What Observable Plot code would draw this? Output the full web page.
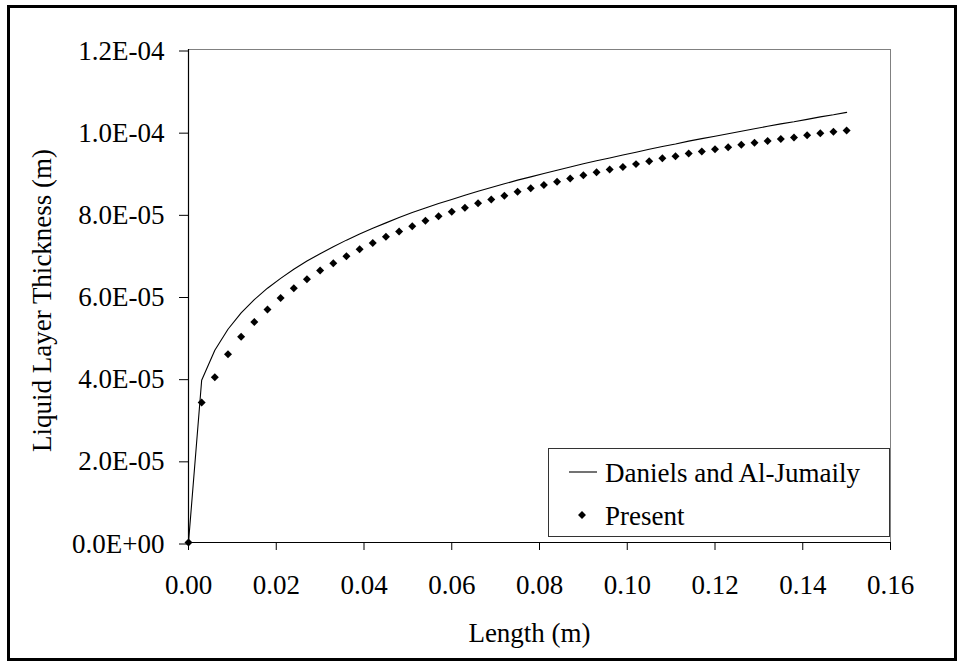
<!DOCTYPE html>
<html>
<head>
<meta charset="utf-8">
<script src="https://cdn.jsdelivr.net/npm/d3@7"></script>
<script src="https://cdn.jsdelivr.net/npm/@observablehq/plot@0.6"></script>
<style>
  html, body { margin: 0; padding: 0; background: #fff; }
  #wrap { position: relative; width: 958px; height: 662px; overflow: hidden; font-family: "Liberation Serif", "Times New Roman", serif; }
  #border { position: absolute; left: 7px; top: 5px; right: 1px; bottom: 1px; border: 3px solid #000; pointer-events: none; }
  #legend { position: absolute; left: 548px; top: 448px; width: 342px; height: 89px; box-sizing: border-box; border: 1px solid #333; background: #fff; }
  #legend svg { position: absolute; left: 0; top: 0; }
</style>
</head>
<body>
<div id="wrap">
  <div id="chart"></div>
  <div id="border"></div>
  <div id="legend"></div>
</div>
<script>
// Length along the surface (m)
const lengthM = [0, 0.003, 0.006, 0.009, 0.012, 0.015, 0.018, 0.021, 0.024, 0.027, 0.030,
  0.033, 0.036, 0.039, 0.042, 0.045, 0.048, 0.051, 0.054, 0.057, 0.060,
  0.063, 0.066, 0.069, 0.072, 0.075, 0.078, 0.081, 0.084, 0.087, 0.090,
  0.093, 0.096, 0.099, 0.102, 0.105, 0.108, 0.111, 0.114, 0.117, 0.120,
  0.123, 0.126, 0.129, 0.132, 0.135, 0.138, 0.141, 0.144, 0.147, 0.150];

// Daniels and Al-Jumaily (m)
const danielsThickness = [0, 3.95e-5, 4.68e-5, 5.19e-5, 5.59e-5, 5.91e-5, 6.19e-5, 6.43e-5, 6.65e-5, 6.85e-5, 7.03e-5,
  7.20e-5, 7.36e-5, 7.51e-5, 7.65e-5, 7.78e-5, 7.91e-5, 8.03e-5, 8.14e-5, 8.25e-5, 8.35e-5,
  8.45e-5, 8.55e-5, 8.64e-5, 8.73e-5, 8.82e-5, 8.90e-5, 8.98e-5, 9.06e-5, 9.14e-5, 9.22e-5,
  9.29e-5, 9.36e-5, 9.43e-5, 9.50e-5, 9.57e-5, 9.64e-5, 9.70e-5, 9.77e-5, 9.83e-5, 9.89e-5,
  9.95e-5, 10.01e-5, 10.07e-5, 10.13e-5, 10.19e-5, 10.24e-5, 10.30e-5, 10.36e-5, 10.41e-5, 10.47e-5];

// Present (m)
const presentThickness = [0, 3.41e-5, 4.02e-5, 4.58e-5, 5.01e-5, 5.37e-5, 5.67e-5, 5.95e-5, 6.19e-5, 6.41e-5, 6.62e-5,
  6.80e-5, 6.97e-5, 7.14e-5, 7.29e-5, 7.44e-5, 7.57e-5, 7.70e-5, 7.83e-5, 7.94e-5, 8.05e-5,
  8.15e-5, 8.26e-5, 8.35e-5, 8.44e-5, 8.54e-5, 8.62e-5, 8.70e-5, 8.78e-5, 8.86e-5, 8.94e-5,
  9.01e-5, 9.08e-5, 9.14e-5, 9.21e-5, 9.28e-5, 9.35e-5, 9.40e-5, 9.47e-5, 9.52e-5, 9.57e-5,
  9.62e-5, 9.68e-5, 9.73e-5, 9.77e-5, 9.82e-5, 9.86e-5, 9.91e-5, 9.96e-5, 10.00e-5, 10.03e-5];

const xTickValues = [0, 0.02, 0.04, 0.06, 0.08, 0.10, 0.12, 0.14, 0.16];
const xTickLabels = ["0.00", "0.02", "0.04", "0.06", "0.08", "0.10", "0.12", "0.14", "0.16"];
const yTickValues = [0, 2e-5, 4e-5, 6e-5, 8e-5, 10e-5, 12e-5];
const yTickLabels = ["0.0E+00", "2.0E-05", "4.0E-05", "6.0E-05", "8.0E-05", "1.0E-04", "1.2E-04"];

const seriesNames = ["Daniels and Al-Jumaily", "Present"];
const xTitle = "Length (m)";
const yTitle = "Liquid Layer Thickness (m)";

const rows = lengthM.map((x, i) => ({x, daniels: danielsThickness[i], present: presentThickness[i]}));

const nearestLabel = (values, labels) => d => {
  let best = 0;
  values.forEach((v, i) => { if (Math.abs(v - d) < Math.abs(values[best] - d)) best = i; });
  return labels[best];
};

const FONT = "Liberation Serif, Times New Roman, serif";

const chart = Plot.plot({
  width: 958,
  height: 662,
  marginLeft: 188,
  marginRight: 68,
  marginTop: 49,
  marginBottom: 120,
  style: {fontFamily: FONT, fontSize: "27px", color: "#000", background: "transparent", overflow: "visible"},
  x: {domain: [0, 0.16]},
  y: {domain: [0, 1.2e-4]},
  marks: [
    Plot.frame({stroke: "#808080", strokeWidth: 1}),
    Plot.axisX({ticks: xTickValues, tickFormat: nearestLabel(xTickValues, xTickLabels), tickSize: 8, tickPadding: 24, label: null, fontSize: 27, stroke: "#000"}),
    Plot.axisY({ticks: yTickValues, tickFormat: nearestLabel(yTickValues, yTickLabels), tickSize: 9, tickPadding: 15, label: null, fontSize: 27, dy: 1.5, stroke: "#000"}),
    Plot.ruleX([0], {stroke: "#000", strokeWidth: 1.2}),
    Plot.ruleY([0], {stroke: "#000", strokeWidth: 1.2}),
    Plot.line(rows, {x: "x", y: "daniels", stroke: "#000", strokeWidth: 1.1}),
    Plot.dot(rows, {x: "x", y: "present", symbol: "diamond2", r: 3.6, fill: "#000", stroke: "none"}),
    Plot.text([xTitle], {frameAnchor: "bottom", textAnchor: "middle", lineAnchor: "middle", dy: 91, dx: -10, fontSize: 27, fill: "#000"}),
    Plot.text([yTitle], {frameAnchor: "left", textAnchor: "middle", lineAnchor: "middle", rotate: -90, dx: -146, dy: 4.5, fontSize: 27, fill: "#000"})
  ]
});
document.getElementById("chart").appendChild(chart);

// Legend (HTML overlay)
const legend = d3.select("#legend").append("svg").attr("width", 340).attr("height", 87)
  .style("font-family", FONT).style("font-size", "27px");
legend.append("line").attr("x1", 20).attr("x2", 48).attr("y1", 23).attr("y2", 23).attr("stroke", "#000").attr("stroke-width", 1.1);
legend.append("text").attr("x", 56).attr("y", 33).text(seriesNames[0]);
legend.append("path").attr("d", d3.symbol(d3.symbolDiamond2, 40)()).attr("transform", "translate(33,66)").attr("fill", "#000");
legend.append("text").attr("x", 56).attr("y", 76).text(seriesNames[1]);
</script>
</body>
</html>
